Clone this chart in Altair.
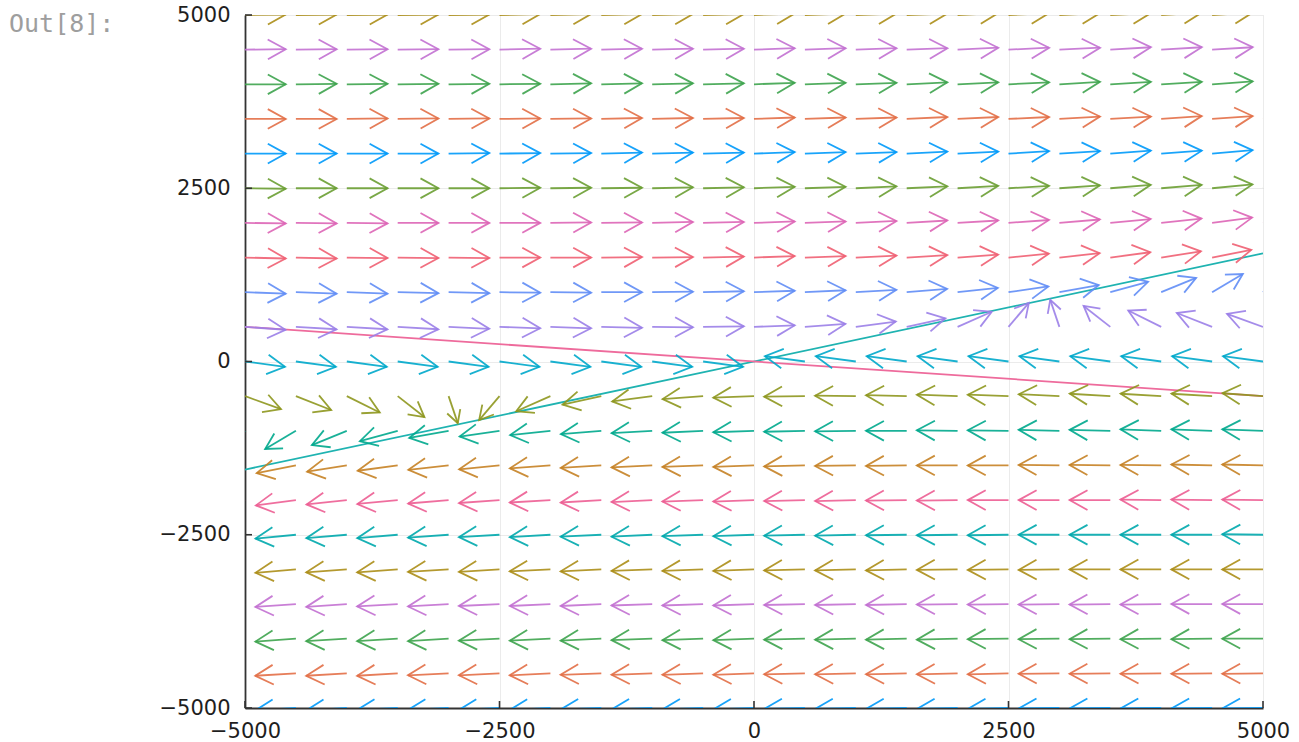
import math
import altair as alt
import pandas as pd

# ---------------- data ----------------
X_VALUES = list(range(-5000, 5001, 500))          # arrow tail x positions
TICKS = [-5000, -2500, 0, 2500, 5000]
ARROW_LEN = 400                                    # arrow length in data units

# arrow direction (degrees, data space) per row, left -> right
a_p5000 = [1, 1, 1, 1, 1, 2, 2, 2, 2, 2, 3, 3, 3, 3, 4, 4, 4, 4, 5, 5, 5]
a_p4500 = [1, 1, 1, 1, 1, 2, 2, 2, 2, 2, 3, 3, 3, 3, 4, 4, 4, 5, 5, 5, 6]
a_p4000 = [0, 1, 1, 1, 1, 1, 2, 2, 2, 2, 3, 3, 3, 4, 4, 4, 5, 5, 5, 6, 6]
a_p3500 = [0, 0, 1, 1, 1, 1, 1, 2, 2, 2, 3, 3, 3, 4, 4, 4, 5, 5, 6, 6, 7]
a_p3000 = [0, 0, 0, 0, 1, 1, 1, 2, 2, 2, 3, 3, 3, 4, 4, 5, 5, 6, 6, 7, 8]
a_p2500 = [-1, 0, 0, 0, 0, 1, 1, 1, 2, 2, 3, 3, 4, 4, 5, 5, 6, 7, 7, 8, 9]
a_p2000 = [-1, -1, -1, 0, 0, 0, 1, 1, 2, 2, 3, 3, 4, 5, 5, 6, 7, 8, 9, 11, 12]
a_p1500 = [-2, -2, -1, -1, -1, 0, 0, 1, 1, 2, 3, 3, 4, 5, 6, 8, 9, 11, 13, 16, 19]
a_p1000 = [-3, -3, -3, -2, -2, -1, -1, 0, 1, 2, 3, 4, 5, 7, 9, 12, 15, 22, 31, 41, 55]
a_p500 = [-6, -5, -5, -5, -4, -3, -3, -2, -1, 1, 3, 6, 11, 18, 33, 60, 103, 131, 144, 150, 152]
a_0 = [-11, -11, -11, -11, -11, -11, -11, -11, -11, -11, None,
       169, 169, 169, 169, 169, 169, 169, 169, 169, 169]
a_m500 = [332, 330, 324, 311, 283, 240, 213, 198, 191, 186, 183, 181, 179, 178, 177, 177, 176, 175, 175, 175, 174]
a_m1000 = [235, 221, 211, 202, 195, 192, 189, 187, 185, 184, 183, 182, 181, 180, 179, 179, 178, 178, 177, 177, 177]
a_m1500 = [199, 196, 193, 191, 189, 188, 186, 185, 184, 183, 183, 182, 181, 181, 180, 180, 179, 179, 179, 178, 178]
a_m2000 = [192, 191, 189, 188, 187, 186, 185, 185, 184, 183, 183, 182, 182, 181, 181, 180, 180, 180, 179, 179, 179]
a_m2500 = [189, 188, 187, 187, 186, 185, 185, 184, 184, 183, 183, 182, 182, 181, 181, 181, 180, 180, 180, 180, 179]
a_m3000 = [188, 187, 186, 186, 185, 185, 184, 184, 183, 183, 183, 182, 182, 182, 181, 181, 181, 180, 180, 180, 180]
a_m3500 = [187, 186, 186, 185, 185, 184, 184, 184, 183, 183, 183, 182, 182, 182, 181, 181, 181, 181, 181, 180, 180]
a_m4000 = [186, 186, 185, 185, 185, 184, 184, 184, 183, 183, 183, 182, 182, 182, 182, 181, 181, 181, 181, 181, 180]
a_m4500 = [186, 185, 185, 185, 184, 184, 184, 183, 183, 183, 183, 182, 182, 182, 182, 182, 181, 181, 181, 181, 181]
a_m5000 = [185, 185, 185, 184, 184, 184, 184, 183, 183, 183, 183, 182, 182, 182, 182, 182, 181, 181, 181, 181, 181]

ROWS = [
    (5000, a_p5000), (4500, a_p4500), (4000, a_p4000), (3500, a_p3500),
    (3000, a_p3000), (2500, a_p2500), (2000, a_p2000), (1500, a_p1500),
    (1000, a_p1000), (500, a_p500), (0, a_0), (-500, a_m500),
    (-1000, a_m1000), (-1500, a_m1500), (-2000, a_m2000), (-2500, a_m2500),
    (-3000, a_m3000), (-3500, a_m3500), (-4000, a_m4000), (-4500, a_m4500),
    (-5000, a_m5000),
]

PALETTE = ["#009AFA", "#E36F47", "#3EA44E", "#C371D2", "#AC8E18", "#00A9AD",
           "#ED5E93", "#C68225", "#00A98D", "#8E971E", "#00A9CB", "#9B7FE8",
           "#618DF6", "#F06073", "#DD65B6", "#6B9F33"]

LINE_X = [-5000, 5000]
TEAL_Y = [-1560, 1560]
PINK_Y = [500, -500]

# ---------------- layout ----------------
W, H = 1018, 693
SX, SY = W / 10000, H / 10000
HEAD_PATH = "M -1 -0.55 L 0 0 L -1 0.55"

records = []
for y, angles in ROWS:
    color = PALETTE[((y + 5000) // 500) % 16]
    for x, a in zip(X_VALUES, angles):
        if a is None:
            continue
        t = math.radians(a)
        dx, dy = ARROW_LEN * math.cos(t), ARROW_LEN * math.sin(t)
        px, py = dx * SX, dy * SY
        disp = math.hypot(px, py)
        rot = (-math.degrees(math.atan2(py, px))) % 360
        r = 0.44 * disp
        records.append(dict(x=x, y=y, x2=x + dx, y2=y + dy, c=color,
                            rot=rot, size=(2 * r) ** 2))
arrows = pd.DataFrame(records)

lines = pd.DataFrame({
    "x": LINE_X + LINE_X,
    "y": TEAL_Y + PINK_Y,
    "s": ["a", "a", "b", "b"],
    "c": ["#1FB3B1", "#1FB3B1", "#EE6B9C", "#EE6B9C"],
})

xscale = alt.Scale(domain=[-5000, 5000], nice=False, zero=False)
yscale = alt.Scale(domain=[-5000, 5000], nice=False, zero=False)
axis_common = dict(values=TICKS, format="d", title=None, ticks=False,
                   grid=True, gridColor="#000000", gridOpacity=0.08, gridWidth=1,
                   domain=True, domainColor="#333333", domainWidth=1.8,
                   labelFont="DejaVu Sans", labelFontSize=21, labelColor="#1e1e1e")
xaxis = alt.Axis(labelPadding=12, labelFlush=False, **axis_common)
yaxis = alt.Axis(labelPadding=15, **axis_common)

line_layer = alt.Chart(lines).mark_line(strokeWidth=1.8, clip=True).encode(
    x=alt.X("x:Q", scale=xscale, axis=xaxis),
    y=alt.Y("y:Q", scale=yscale, axis=yaxis),
    detail="s:N",
    color=alt.Color("c:N", scale=None),
)

shafts = alt.Chart(arrows).mark_rule(strokeWidth=1.8, opacity=0.9, clip=True).encode(
    x=alt.X("x:Q", scale=xscale, axis=xaxis),
    y=alt.Y("y:Q", scale=yscale, axis=yaxis),
    x2="x2:Q",
    y2="y2:Q",
    color=alt.Color("c:N", scale=None),
)

heads = alt.Chart(arrows).mark_point(shape=HEAD_PATH, filled=False, strokeWidth=1.8,
                                     opacity=0.9, clip=True).encode(
    x=alt.X("x2:Q", scale=xscale, axis=xaxis),
    y=alt.Y("y2:Q", scale=yscale, axis=yaxis),
    angle=alt.Angle("rot:Q", scale=None),
    size=alt.Size("size:Q", scale=None),
    color=alt.Color("c:N", scale=None),
)

tick_df = pd.DataFrame({"t": TICKS})
xticks = alt.Chart(tick_df).mark_rule(color="#333333", strokeWidth=1.6).encode(
    x=alt.X("t:Q", scale=xscale, axis=xaxis),
    y=alt.value(H), y2=alt.value(H - 7),
)
yticks = alt.Chart(tick_df).mark_rule(color="#333333", strokeWidth=1.6).encode(
    y=alt.Y("t:Q", scale=yscale, axis=yaxis),
    x=alt.value(0), x2=alt.value(7),
)

prompt = alt.Chart(pd.DataFrame({"p": [0]})).mark_text(
    text="Out[8]:", font="DejaVu Sans Mono", fontSize=25, color="#9E9E9E",
    align="left", baseline="alphabetic").encode(
    x=alt.value(-236), y=alt.value(17))

chart = alt.layer(line_layer, shafts, heads, xticks, yticks, prompt).properties(
    width=W, height=H,
    padding={"left": 245, "top": 15, "right": 36, "bottom": 34},
    autosize=alt.AutoSizeParams(type="none"),
    background="white",
).configure_view(stroke=None)

chart.save("out.html", embed_options={"renderer": "svg", "actions": False})
